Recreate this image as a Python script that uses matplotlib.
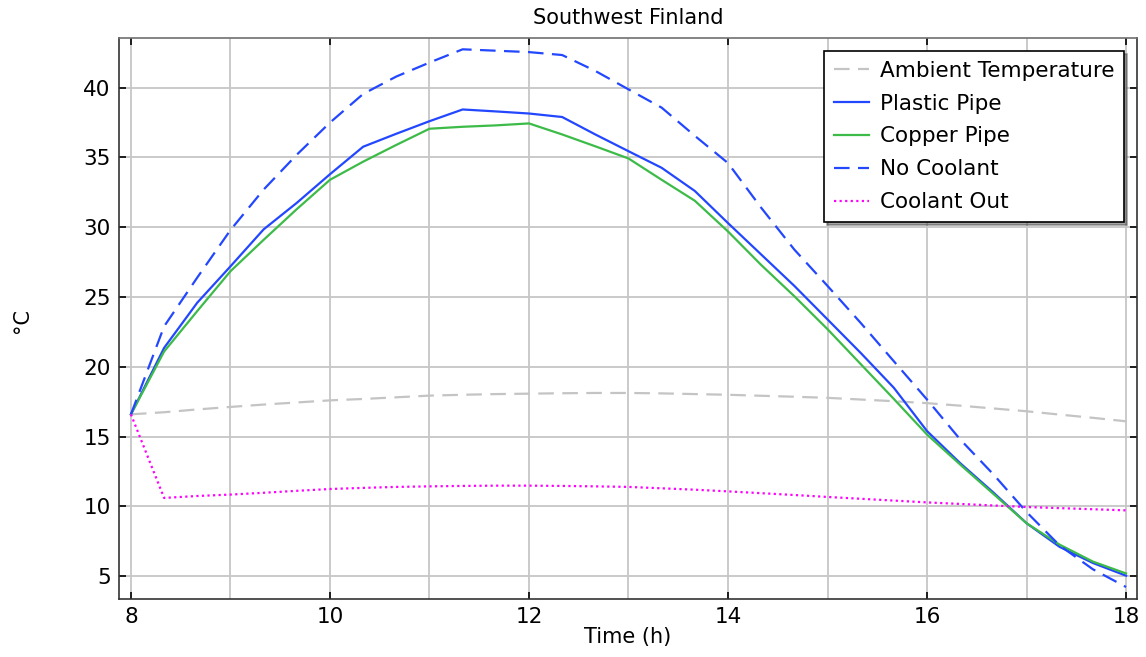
import matplotlib

matplotlib.use("Agg")

import matplotlib.pyplot as plt
import numpy as np
from matplotlib.ticker import MultipleLocator

# sample times, every 20 minutes from 08:00 to 18:00
time_h = np.linspace(8.0, 18.0, 31)

ambient = [
    16.6, 16.75, 16.95, 17.13, 17.3, 17.45, 17.6, 17.7, 17.82, 17.94,
    18.0, 18.05, 18.08, 18.11, 18.13, 18.13, 18.1, 18.05, 18.0, 17.93,
    17.86, 17.78, 17.66, 17.54, 17.4, 17.22, 17.02, 16.82, 16.58, 16.35,
    16.1,
]
plastic_pipe = [
    16.6, 21.36, 24.6, 27.2, 29.85, 31.75, 33.8, 35.77, 36.7, 37.6,
    38.44, 38.3, 38.15, 37.9, 36.65, 35.45, 34.26, 32.6, 30.3, 28.05,
    25.8, 23.4, 21.0, 18.5, 15.4, 13.1, 11.0, 8.8, 7.1, 5.95,
    5.04,
]
copper_pipe = [
    16.6, 21.1, 24.0, 26.85, 29.1, 31.3, 33.4, 34.7, 35.9, 37.06,
    37.2, 37.3, 37.44, 36.65, 35.8, 34.93, 33.4, 31.9, 29.7, 27.3,
    25.06, 22.7, 20.2, 17.7, 15.15, 13.0, 10.9, 8.8, 7.26, 6.05,
    5.2,
]
no_coolant = [
    16.6, 22.9, 26.4, 29.8, 32.7, 35.2, 37.5, 39.55, 40.8, 41.8,
    42.75, 42.65, 42.55, 42.34, 41.2, 39.88, 38.57, 36.55, 34.6, 31.4,
    28.4, 25.8, 23.15, 20.4, 17.66, 14.8, 12.3, 9.6, 7.2, 5.5,
    4.23,
]
coolant_out = [
    16.6, 10.61, 10.75, 10.85, 10.98, 11.12, 11.25, 11.33, 11.4, 11.44,
    11.47, 11.49, 11.49, 11.47, 11.44, 11.4, 11.3, 11.2, 11.08, 10.95,
    10.82, 10.68, 10.55, 10.42, 10.29, 10.18, 10.07, 9.96, 9.88, 9.8,
    9.72,
]

BLUE = "#2347ff"
GREEN = "#3dbb48"
GRAY = "#c4c4c4"
MAGENTA = "#ff00ff"

fig = plt.figure(figsize=(11.46, 6.57), dpi=100)
ax = fig.add_axes((119 / 1146, 1 - 599 / 657, 1018 / 1146, 561 / 657))

lw = 1.6
dash = (0, (7, 3.8))
ax.plot(time_h, ambient, color=GRAY, lw=lw, ls=dash, label="Ambient Temperature")
ax.plot(time_h, plastic_pipe, color=BLUE, lw=lw, label="Plastic Pipe")
ax.plot(time_h, copper_pipe, color=GREEN, lw=lw, label="Copper Pipe")
ax.plot(time_h, no_coolant, color=BLUE, lw=lw, ls=dash, label="No Coolant")
ax.plot(time_h, coolant_out, color=MAGENTA, lw=lw, ls=(0, (1, 1.5)), label="Coolant Out")

ax.set_xlim(7.88, 18.11)
ax.set_ylim(3.37, 43.56)
ax.xaxis.set_major_locator(MultipleLocator(2))
ax.xaxis.set_minor_locator(MultipleLocator(1))
ax.yaxis.set_major_locator(MultipleLocator(5))

ax.grid(True, which="both", axis="x", color="#c6c6c6", lw=1.3)
ax.grid(True, which="major", axis="y", color="#c6c6c6", lw=1.3)
ax.set_axisbelow(True)

ax.tick_params(axis="both", which="major", direction="in", length=5, width=1.2,
               top=True, right=True, labelsize=15.5, pad=6, colors="black")
ax.tick_params(axis="both", which="minor", length=0, top=True, right=True)
for side, spine in ax.spines.items():
    spine.set_linewidth(1.2)
    spine.set_color("#707070" if side == "top" else "#333333")

ax.set_title("Southwest Finland", fontsize=15, pad=10)
ax.set_xlabel("Time (h)", fontsize=15, labelpad=0)
fig.text(0.019, 0.512, "°C", rotation=90, fontsize=15, ha="center", va="center")

leg = ax.legend(loc="upper right", bbox_to_anchor=(0.9875, 0.977), fontsize=15.5,
                frameon=True, fancybox=False, shadow=True, framealpha=1,
                edgecolor="black", borderpad=0.45, handlelength=1.65,
                handletextpad=0.5, labelspacing=0.6, borderaxespad=0)
leg.get_frame().set_linewidth(1.2)

fig.savefig("out.png", dpi=100)
